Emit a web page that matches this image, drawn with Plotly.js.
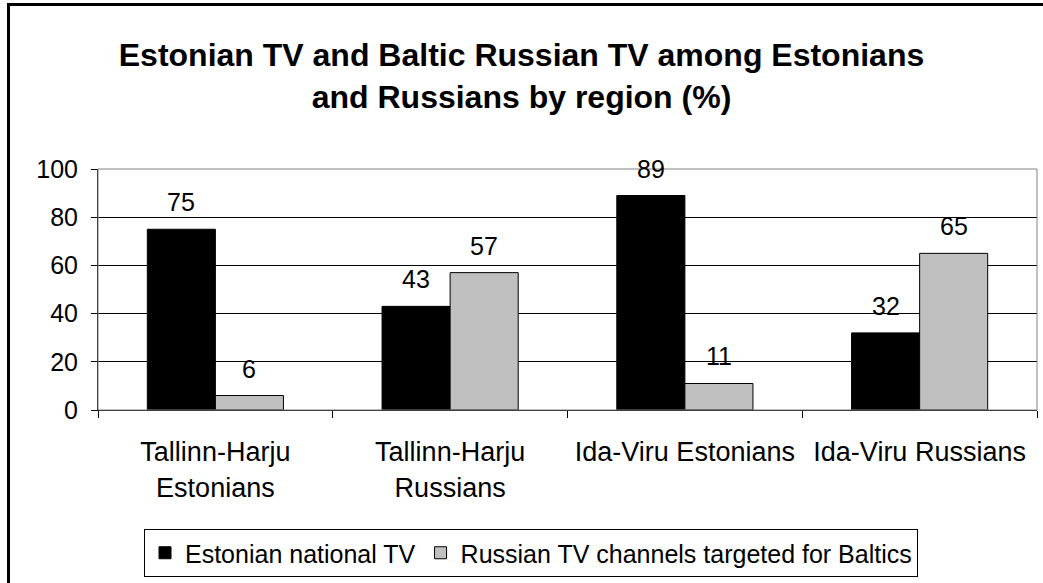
<!DOCTYPE html>
<html>
<head>
<meta charset="utf-8">
<script src="https://cdn.plot.ly/plotly-3.0.1.min.js"></script>
<style>
  html, body { margin: 0; padding: 0; background: #fff; }
  #wrap { position: relative; width: 1043px; height: 583px; overflow: hidden; }
  #chart { width: 1043px; height: 583px; }
  #frame { position: absolute; left: 7px; top: 3px; width: 1100px; height: 700px;
           border-left: 3px solid #000; border-top: 3px solid #000; pointer-events: none; }
</style>
</head>
<body>
<div id="wrap">
  <div id="chart"></div>
  <div id="frame"></div>
</div>
<script>
const categories = ["Tallinn-Harju<br>Estonians", "Tallinn-Harju<br>Russians", "Ida-Viru Estonians", "Ida-Viru Russians"];
const seriesNames = ["Estonian national TV", "Russian TV channels targeted for Baltics"];
const estonianTV = [75, 43, 89, 32];
const russianTV = [6, 57, 11, 65];
const yTicks = [0, 20, 40, 60, 80, 100];

const FONT = '"Liberation Sans", Arial, sans-serif';
const W = 1043, H = 583;
const margin = {l: 98, r: 6, t: 169, b: 173};
const bargap = 0.42;
const plotW = W - margin.l - margin.r;
const barW = plotW / categories.length * (1 - bargap) / 2;

const traces = [
  {type: 'bar', name: seriesNames[0], x: categories, y: estonianTV,
   marker: {color: '#000000', line: {color: '#000000', width: 1}}, hoverinfo: 'none'},
  {type: 'bar', name: seriesNames[1], x: categories, y: russianTV,
   marker: {color: '#c0c0c0', line: {color: '#000000', width: 1}}, hoverinfo: 'none'}
];

const annotations = [];
[estonianTV, russianTV].forEach((vals, si) => {
  vals.forEach((v, i) => {
    annotations.push({
      x: categories[i], y: v, xref: 'x', yref: 'y',
      text: String(v), showarrow: false,
      xshift: (si === 0 ? -1 : 1) * barW / 2,
      yshift: 27, yanchor: 'middle', xanchor: 'center',
      font: {family: FONT, size: 25, color: '#000'}
    });
  });
});

const layout = {
  width: W, height: H,
  margin: margin,
  paper_bgcolor: '#fff', plot_bgcolor: '#fff',
  font: {family: FONT, color: '#000'},
  title: {
    text: '<b>Estonian TV and Baltic Russian TV among Estonians<br>and Russians by region (%)</b>',
    font: {family: FONT, size: 32, color: '#000'},
    x: 0.5, xref: 'container', xanchor: 'center',
    y: 1 - 66 / H, yref: 'container', yanchor: 'top'
  },
  barmode: 'group', bargap: bargap, bargroupgap: 0,
  showlegend: true,
  legend: {
    orientation: 'h', xref: 'container', yref: 'container',
    x: 531 / W, xanchor: 'center', y: 1 - 529 / H, yanchor: 'top',
    bordercolor: '#000', borderwidth: 1, bgcolor: '#fff',
    font: {family: FONT, size: 25, color: '#000'},
    itemclick: false, traceorder: 'normal'
  },
  xaxis: {
    type: 'category', tickson: 'boundaries',
    ticks: 'outside', ticklen: 7, tickcolor: '#000', tickwidth: 1,
    showline: true, linecolor: '#000', linewidth: 1,
    showgrid: false, zeroline: false,
    tickfont: {family: FONT, size: 27, color: '#000'},
    ticklabelstandoff: 18,
    fixedrange: true
  },
  yaxis: {
    range: [0, 100], tickvals: yTicks, ticktext: yTicks.map(String),
    ticks: 'outside', ticklen: 6, tickcolor: '#000', tickwidth: 1,
    showline: true, linecolor: '#000', linewidth: 1,
    showgrid: true, gridcolor: '#000', gridwidth: 1,
    zeroline: false,
    tickfont: {family: FONT, size: 25, color: '#000'},
    ticklabelstandoff: 8,
    fixedrange: true
  },
  shapes: [{
    type: 'rect', xref: 'paper', yref: 'paper', x0: 0, x1: 1, y0: 0, y1: 1,
    line: {color: '#808080', width: 1}, layer: 'above'
  }],
  annotations: annotations
};

Plotly.newPlot('chart', traces, layout, {displayModeBar: false, staticPlot: true});
</script>
</body>
</html>
